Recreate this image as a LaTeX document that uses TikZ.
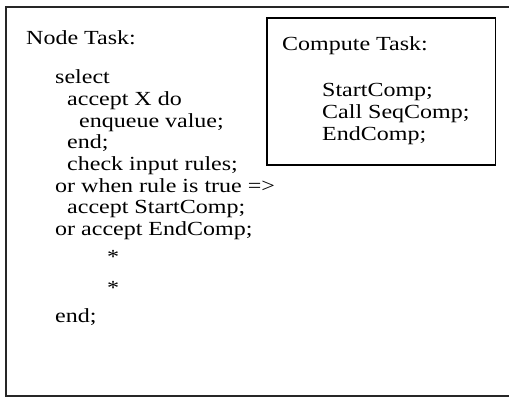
\documentclass[tikz,border=0pt]{standalone}
\usepackage{fontspec}
\setmainfont[FakeStretch=1.2]{Liberation Serif}
\begin{document}
\begin{tikzpicture}[x=1pt,y=-1pt,
  txt/.style={anchor=base west, inner sep=0pt, font=\fontsize{20}{24}\selectfont},
  outerbox/.style={line width=1.5pt, black!85},
  innerbox/.style={line width=1.8pt, black}]
\useasboundingbox (0,0) rectangle (509,397);
\begin{scope}
\clip (0,0) rectangle (509,397);
\draw[outerbox] (6,7) rectangle (520,396);
\end{scope}
\draw[innerbox] (267,18) rectangle (495.5,165);
% Node task
\node[txt] (nt) at (26,44) {Node Task:};
\node[txt] (l1) at (55,83) {select};
\node[txt] (l2) at (67,105) {accept X do};
\node[txt] (l3) at (79,127) {enqueue value;};
\node[txt] (l4) at (67,148) {end;};
\node[txt] (l5) at (67,170) {check input rules;};
\node[txt] (l6) at (55,192) {or when rule is true =>};
\node[txt] (l7) at (67,213) {accept StartComp;};
\node[txt] (l8) at (55,235) {or accept EndComp;};
\node[txt] (s1) at (107,263) {*};
\node[txt] (s2) at (107,294) {*};
\node[txt] (l9) at (55,322) {end;};
% Compute task
\node[txt] (ct) at (282,50) {Compute Task:};
\node[txt] (c1) at (322,96) {StartComp;};
\node[txt] (c2) at (322,118) {Call SeqComp;};
\node[txt] (c3) at (322,140) {EndComp;};
\end{tikzpicture}
\end{document}
